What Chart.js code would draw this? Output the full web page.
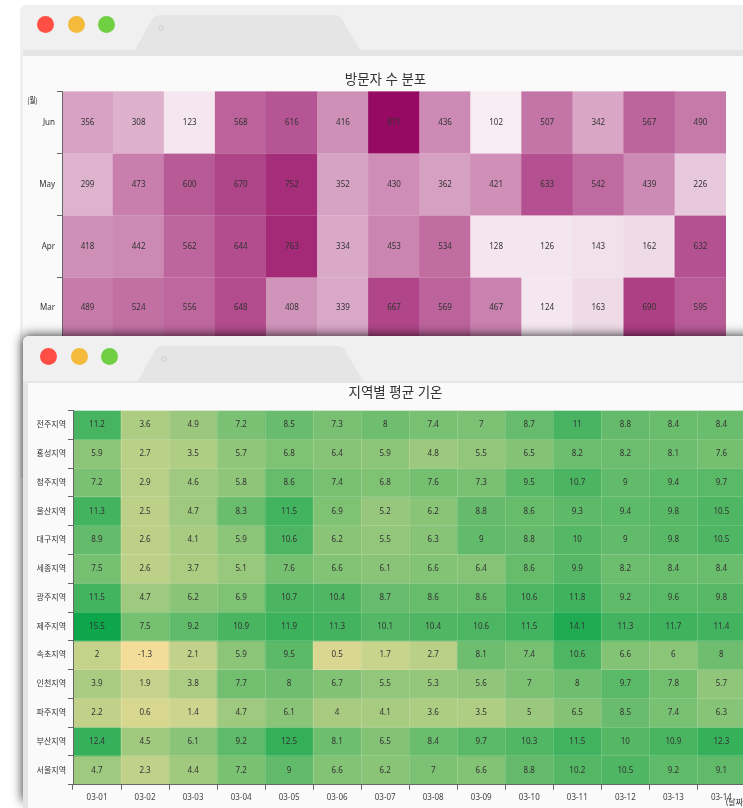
<!DOCTYPE html>
<html>
<head>
<meta charset="utf-8">
<title>heatmaps</title>
<script src="https://cdn.jsdelivr.net/npm/chart.js@4"></script>
<style>
  html, body { margin: 0; padding: 0; background: #fff; }
  body { width: 743px; height: 808px; overflow: hidden; position: relative; }
  #page { position: absolute; left: 0; top: 0; width: 743px; height: 808px; overflow: hidden; filter: blur(0.4px); }
  .win { position: absolute; background: #f0f0f0; border-radius: 6px 6px 0 0; }
  .band { position: absolute; right: 0; background: #e5e5e5; }
  .body { position: absolute; right: 0; bottom: 0; background: #fafafa; }
  .dot { position: absolute; width: 17px; height: 17px; border-radius: 50%; }
  .tab { position: absolute; background: #e5e5e5; clip-path: polygon(0 100%, 16px 6px, 19px 2px, 24px 0, calc(100% - 24px) 0, calc(100% - 19px) 2px, calc(100% - 17px) 6px, 100% 100%); }
  .pin { position: absolute; width: 4px; height: 4px; border: 1.5px solid #cfcfcf; border-radius: 50%; }
  canvas { position: absolute; }
  #shadow { position: absolute; left: 23px; top: 336px; width: 740px; height: 464px; box-shadow: 0 0 11px 1px rgba(0,0,0,.75); border-radius: 6px 6px 0 0; }
  #monthName { position: absolute; left: 26px; top: 94px; font: 8px "Noto Sans CJK KR"; color: #111; transform: scaleX(.8); }
</style>
</head>
<body>
<div id="page">
  <div class="win" style="left:20px;top:5px;width:740px;height:473px">
    <div class="band" style="left:3px;top:45px;height:6px"></div>
    <div class="body" style="left:3px;top:51px"></div>
    <div class="dot" style="left:17px;top:11px;background:#ff4f44"></div>
    <div class="dot" style="left:47.5px;top:11px;background:#f4ba3c"></div>
    <div class="dot" style="left:78px;top:11px;background:#70cf42"></div>
    <div class="tab" style="left:115px;top:10px;width:225px;height:35px"></div>
    <div class="pin" style="left:138px;top:20px"></div>
  </div>
  <canvas id="visitChart" width="725" height="290" style="left:23px;top:56px"></canvas>
  <div id="monthName">(월)</div>

  <div id="shadow"></div>
  <div class="win" style="left:23px;top:336px;width:740px;height:480px">
    <div class="band" style="left:0;top:45px;height:2px"></div>
    <div class="band" style="left:0;top:47px;width:5px;right:auto;bottom:0"></div>
    <div class="body" style="left:5px;top:47px"></div>
    <div class="dot" style="left:16.5px;top:11.5px;background:#ff4f44"></div>
    <div class="dot" style="left:47.5px;top:11.5px;background:#f4ba3c"></div>
    <div class="dot" style="left:78px;top:11.5px;background:#70cf42"></div>
    <div class="tab" style="left:115px;top:10px;width:225px;height:35px"></div>
    <div class="pin" style="left:138px;top:19.5px"></div>
  </div>
  <canvas id="tempChart" width="735" height="425" style="left:28px;top:383px"></canvas>
</div>

<script>
      const FONT = '"Noto Sans", "Noto Sans CJK KR", sans-serif';

      // top chart: visitors, rows top to bottom (the rows below Mar are hidden by the front window)
      const visitRows = ["Jun", "May", "Apr", "Mar"];
      const visitCols = ["1", "2", "3", "4", "5", "6", "7", "8", "9", "10", "11", "12", "13"];
      const visitJun = [356, 308, 123, 568, 616, 416, 871, 436, 102, 507, 342, 567, 490];
      const visitMay = [299, 473, 600, 670, 752, 352, 430, 362, 421, 633, 542, 439, 226];
      const visitApr = [418, 442, 562, 644, 763, 334, 453, 534, 128, 126, 143, 162, 632];
      const visitMar = [489, 524, 556, 648, 408, 339, 667, 569, 467, 124, 163, 690, 595];
      const visitValues = [visitJun, visitMay, visitApr, visitMar];

      // bottom chart: temperature, rows top to bottom
      const tempRows = ["전주지역", "홍성지역", "청주지역", "울산지역", "대구지역", "세종지역", "광주지역",
        "제주지역", "속초지역", "인천지역", "파주지역", "부산지역", "서울지역"];
      const tempDays = ["03-01", "03-02", "03-03", "03-04", "03-05", "03-06", "03-07",
        "03-08", "03-09", "03-10", "03-11", "03-12", "03-13", "03-14"];
      const tempJeonju = [11.2, 3.6, 4.9, 7.2, 8.5, 7.3, 8, 7.4, 7, 8.7, 11, 8.8, 8.4, 8.4];
      const tempHongseong = [5.9, 2.7, 3.5, 5.7, 6.8, 6.4, 5.9, 4.8, 5.5, 6.5, 8.2, 8.2, 8.1, 7.6];
      const tempCheongju = [7.2, 2.9, 4.6, 5.8, 8.6, 7.4, 6.8, 7.6, 7.3, 9.5, 10.7, 9, 9.4, 9.7];
      const tempUlsan = [11.3, 2.5, 4.7, 8.3, 11.5, 6.9, 5.2, 6.2, 8.8, 8.6, 9.3, 9.4, 9.8, 10.5];
      const tempDaegu = [8.9, 2.6, 4.1, 5.9, 10.6, 6.2, 5.5, 6.3, 9, 8.8, 10, 9, 9.8, 10.5];
      const tempSejong = [7.5, 2.6, 3.7, 5.1, 7.6, 6.6, 6.1, 6.6, 6.4, 8.6, 9.9, 8.2, 8.4, 8.4];
      const tempGwangju = [11.5, 4.7, 6.2, 6.9, 10.7, 10.4, 8.7, 8.6, 8.6, 10.6, 11.8, 9.2, 9.6, 9.8];
      const tempJeju = [15.5, 7.5, 9.2, 10.9, 11.9, 11.3, 10.1, 10.4, 10.6, 11.5, 14.1, 11.3, 11.7, 11.4];
      const tempSokcho = [2, -1.3, 2.1, 5.9, 9.5, 0.5, 1.7, 2.7, 8.1, 7.4, 10.6, 6.6, 6, 8];
      const tempIncheon = [3.9, 1.9, 3.8, 7.7, 8, 6.7, 5.5, 5.3, 5.6, 7, 8, 9.7, 7.8, 5.7];
      const tempPaju = [2.2, 0.6, 1.4, 4.7, 6.1, 4, 4.1, 3.6, 3.5, 5, 6.5, 8.5, 7.4, 6.3];
      const tempBusan = [12.4, 4.5, 6.1, 9.2, 12.5, 8.1, 6.5, 8.4, 9.7, 10.3, 11.5, 10, 10.9, 12.3];
      const tempSeoul = [4.7, 2.3, 4.4, 7.2, 9, 6.6, 6.2, 7, 6.6, 8.8, 10.2, 10.5, 9.2, 9.1];
      const tempValues = [tempJeonju, tempHongseong, tempCheongju, tempUlsan, tempDaegu, tempSejong, tempGwangju,
        tempJeju, tempSokcho, tempIncheon, tempPaju, tempBusan, tempSeoul];

      // color ramps as [value, r, g, b]
      const visitRamp = [[102, 247, 237, 243], [871, 150, 10, 99]];
      const tempRamp = [[-1.3, 243, 221, 153], [8, 111, 190, 111], [15.5, 14, 166, 75]];

      function rampColor(ramp, v) {
        for (let i = 1; i < ramp.length; i++) {
          if (v <= ramp[i][0]) {
            const a = ramp[i - 1];
            const b = ramp[i];
            const t = (v - a[0]) / (b[0] - a[0]);
            return "rgb(" + [1, 2, 3].map((k) => Math.round(a[k] + (b[k] - a[k]) * t)).join(",") + ")";
          }
        }
        return "rgb(" + ramp[ramp.length - 1].slice(1).join(",") + ")";
      }

      // writes the value in the middle of every cell, and centres the title on the whole canvas
      const cellText = {
        id: "cellText",
        afterLayout(chart) {
          chart.titleBlock.right = chart.width;
        },
        afterDatasetsDraw(chart) {
          const ctx = chart.ctx;
          ctx.save();
          ctx.font = "8px " + FONT;
          ctx.fillStyle = "#333";
          ctx.textAlign = "center";
          ctx.textBaseline = "middle";
          chart.data.datasets.forEach((ds, d) => {
            chart.getDatasetMeta(d).data.forEach((bar, i) => {
              const p = bar.getCenterPoint();
              ctx.fillText(ds.data[i].v, p.x, p.y);
            });
          });
          ctx.restore();
        },
      };

      function heatmap(id, rows, cols, values, ramp, opts) {
        // one dataset per row, a cell is a floating bar [row, row + 1] on a hidden linear axis
        const datasets = rows.map((name, r) => ({
          label: name,
          data: values[r].map((v, c) => ({ x: cols[c], y: [r, r + 1], v: v })),
          backgroundColor: values[r].map((v) => rampColor(ramp, v)),
          borderWidth: 0,
          barPercentage: 1,
          categoryPercentage: 1,
          grouped: false,
        }));
        // faint cell separators are the grid lines, drawn above the bars
        // border needs a higher z than grid, its position is computed while the grid draws
        const gridOpts = {
          offset: true,
          z: 1,
          color: "rgba(255,255,255,0.16)",
          lineWidth: 1,
          tickLength: 5,
          tickColor: "#666",
          tickWidth: 1,
        };
        const borderOpts = { color: "#666", width: 1, z: 2 };
        return new Chart(document.getElementById(id), {
          type: "bar",
          data: { labels: cols, datasets: datasets },
          plugins: [cellText],
          options: {
            responsive: false,
            animation: false,
            devicePixelRatio: 1,
            layout: { autoPadding: false, padding: opts.padding },
            plugins: {
              legend: { display: false },
              tooltip: { enabled: false },
              title: {
                display: true,
                text: opts.title,
                color: "#333",
                font: { family: FONT, size: 13.5, weight: "normal", lineHeight: 1.2 },
                padding: opts.titlePadding,
              },
            },
            scales: {
              x: {
                type: "category",
                display: opts.showX,
                offset: true,
                grid: gridOpts,
                border: borderOpts,
                ticks: { color: "#444", font: { family: FONT, size: 8 }, padding: 3, maxRotation: 0, autoSkip: false },
                title: {
                  display: opts.showX,
                  text: "(날짜)",
                  align: "end",
                  color: "#333",
                  font: { family: FONT, size: 8 },
                  padding: 0,
                },
                afterFit(s) { if (opts.showX) s.height = opts.xHeight; },
              },
              y: { type: "linear", display: false, min: 0, max: rows.length, reverse: true },
              yLabels: {
                type: "category",
                axis: "y",
                position: "left",
                labels: rows,
                offset: true,
                grid: gridOpts,
                border: borderOpts,
                ticks: { color: "#333", font: { family: FONT, size: 8 }, padding: 2 },
                afterFit(s) { s.width = opts.yWidth; },
              },
            },
          },
        });
      }

      heatmap("visitChart", visitRows, visitCols, visitValues, visitRamp, {
        title: "방문자 수 분포",
        titlePadding: { top: 16, bottom: 3.1 },
        padding: { top: 0, right: 22, bottom: 4.3, left: 0 },
        yWidth: 39,
        showX: false,
      });

      heatmap("tempChart", tempRows, tempDays, tempValues, tempRamp, {
        title: "지역별 평균 기온",
        titlePadding: { top: 2.5, bottom: 8.9 },
        padding: { top: 0, right: 17.6, bottom: 0, left: 0 },
        yWidth: 45,
        showX: true,
        xHeight: 23.3,
      });
</script>
</body>
</html>
